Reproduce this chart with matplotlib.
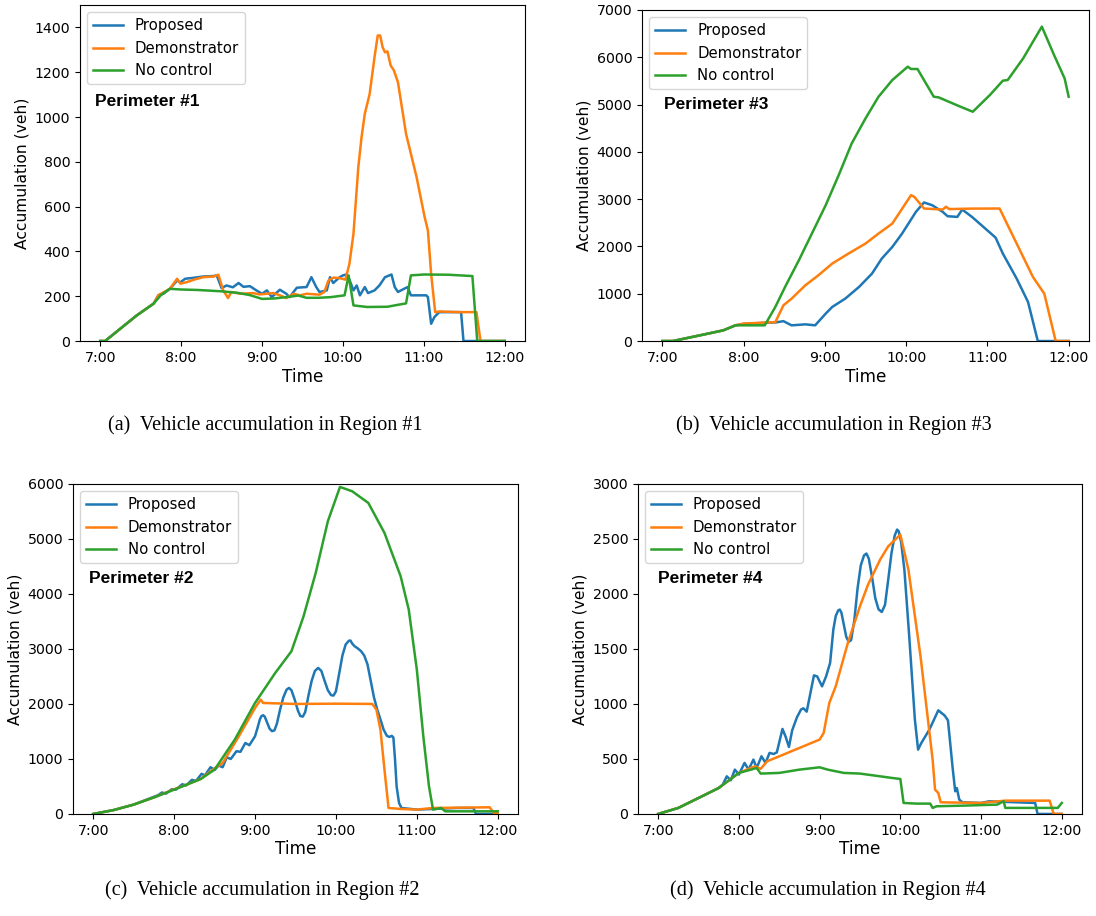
import numpy as np
import matplotlib
matplotlib.use("Agg")
import matplotlib.pyplot as plt

# ---------------- data (hours of day, vehicles) ----------------
series_names = ["Proposed", "Demonstrator", "No control"]
hour_ticks = [7, 8, 9, 10, 11, 12]
hour_labels = ["7:00", "8:00", "9:00", "10:00", "11:00", "12:00"]

# Region 1
r1_prop_t = [7.0, 7.06, 7.45, 7.66, 7.72, 7.78, 7.86, 7.95, 7.99, 8.05, 8.15, 8.27, 8.4, 8.44, 8.5, 8.56, 8.64,
             8.71, 8.77, 8.85, 8.93, 9.0, 9.06, 9.12, 9.22, 9.3, 9.34, 9.43, 9.55, 9.61, 9.67, 9.71, 9.8, 9.84,
             9.88, 9.96, 10.0, 10.04, 10.08, 10.13, 10.17, 10.21, 10.27, 10.31, 10.39, 10.45, 10.52, 10.6, 10.64,
             10.68, 10.76, 10.8, 10.84, 11.03, 11.05, 11.09, 11.13, 11.19, 11.46, 11.49, 12.0]
r1_prop_v = [0, 0, 114, 167, 205, 211, 233, 270, 262, 278, 282, 288, 290, 293, 236, 248, 240,
             259, 242, 245, 226, 211, 226, 196, 229, 211, 196, 238, 241, 285, 241, 219, 226, 285,
             259, 285, 293, 297, 274, 226, 248, 204, 241, 214, 226, 248, 285, 297, 241,
             219, 234, 241, 204, 204, 196, 77, 107, 129, 129, 0, 0]
r1_demo_t = [7.0, 7.06, 7.45, 7.66, 7.72, 7.86, 7.95, 7.99, 8.07, 8.15, 8.27, 8.4, 8.46, 8.52, 8.58, 8.62, 8.73,
             8.89, 8.97, 9.14, 9.22, 9.3, 9.39, 9.47, 9.55, 9.71, 9.77, 9.82, 9.88, 9.96, 10.03, 10.08, 10.13,
             10.19, 10.23, 10.27, 10.33, 10.39, 10.43, 10.46, 10.49, 10.52, 10.55, 10.59, 10.63, 10.68, 10.78,
             10.91, 11.01, 11.05, 11.09, 11.14, 11.19, 11.44, 11.65, 11.7, 12.0]
r1_demo_v = [0, 0, 114, 167, 205, 233, 278, 256, 263, 273, 285, 288, 296, 226, 192, 219, 211,
             214, 208, 214, 204, 192, 211, 204, 211, 207, 219, 270, 283, 281, 274, 345, 479,
             776, 910, 1014, 1103, 1267, 1364, 1364, 1312, 1289, 1293, 1230, 1208, 1155, 925,
             732, 553, 494, 300, 129, 132, 129, 129, 0, 0]
r1_none_t = [7.0, 7.06, 7.45, 7.66, 7.75, 7.86, 8.0, 8.2, 8.4, 8.5, 8.7, 8.85, 9.0, 9.15, 9.3, 9.45, 9.55, 9.7,
             9.85, 10.02, 10.07, 10.13, 10.3, 10.55, 10.7, 10.78, 10.84, 11.0, 11.3, 11.6, 11.66, 12.0]
r1_none_v = [0, 0, 114, 167, 205, 233, 230, 228, 224, 222, 215, 205, 188, 190, 196, 203, 193, 193,
             196, 204, 293, 159, 152, 153, 163, 168, 293, 297, 296, 290, 0, 0]

# Region 3
r3_prop_t = [7.0, 7.13, 7.5, 7.75, 7.9, 8.0, 8.2, 8.4, 8.49, 8.59, 8.7, 8.76, 8.88, 9.01, 9.09, 9.25, 9.42,
             9.58, 9.7, 9.83, 9.95, 10.12, 10.22, 10.32, 10.45, 10.51, 10.63, 10.69, 10.81, 11.1, 11.19, 11.36,
             11.5, 11.62, 12.0]
r3_prop_v = [0, 0, 134, 226, 332, 360, 380, 395, 420, 332, 345, 353, 332, 579, 720, 896, 1143,
             1426, 1743, 1990, 2272, 2731, 2930, 2872, 2731, 2639, 2625, 2780, 2625, 2188, 1849, 1320,
             826, 0, 0]
r3_demo_t = [7.0, 7.13, 7.5, 7.75, 7.9, 8.0, 8.39, 8.49, 8.59, 8.76, 8.92, 9.09, 9.29, 9.5, 9.66, 9.83,
             10.06, 10.1, 10.22, 10.45, 10.49, 10.53, 10.8, 11.15, 11.36, 11.56, 11.7, 11.84, 12.0]
r3_demo_v = [0, 0, 134, 226, 332, 370, 400, 755, 896, 1179, 1390, 1637, 1849, 2061, 2272, 2484,
             3084, 3049, 2802, 2780, 2840, 2790, 2800, 2802, 2061, 1355, 1002, 0, 0]
r3_none_t = [7.0, 7.13, 7.5, 7.75, 7.9, 8.26, 8.39, 8.51, 8.68, 8.84, 9.01, 9.17, 9.33, 9.5, 9.66, 9.83,
             10.02, 10.06, 10.14, 10.34, 10.4, 10.65, 10.82, 11.03, 11.19, 11.25, 11.44, 11.67, 11.82, 11.95, 12.0]
r3_none_v = [0, 0, 134, 226, 332, 332, 720, 1143, 1708, 2272, 2872, 3507, 4178, 4707, 5166, 5519,
             5801, 5752, 5752, 5166, 5152, 4968, 4848, 5201, 5505, 5519, 5977, 6648, 6048, 5554, 5166]

# Region 2
r2_prop_t = [7.0, 7.25, 7.5, 7.8, 7.85, 7.9, 7.97, 8.02, 8.1, 8.15, 8.22, 8.27, 8.34, 8.38, 8.45, 8.5, 8.55,
             8.6, 8.65, 8.7, 8.77, 8.82, 8.88, 8.93, 9.0, 9.03, 9.06, 9.08, 9.1, 9.12, 9.15, 9.18, 9.21, 9.24,
             9.27, 9.31, 9.35, 9.39, 9.42, 9.45, 9.49, 9.53, 9.56, 9.59, 9.62, 9.66, 9.7, 9.74, 9.78, 9.82,
             9.86, 9.9, 9.94, 9.97, 10.0, 10.04, 10.08, 10.12, 10.16, 10.18, 10.2, 10.23, 10.27, 10.31, 10.35,
             10.39, 10.43, 10.47, 10.51, 10.55, 10.59, 10.63, 10.66, 10.69, 10.71, 10.73, 10.75, 10.78, 10.81,
             11.0, 11.5, 11.7, 11.73, 12.0]
r2_prop_v = [0, 70, 170, 340, 390, 370, 450, 440, 540, 520, 620, 600, 730, 700, 850, 800, 880,
             850, 1030, 1000, 1140, 1130, 1290, 1250, 1412, 1560, 1720, 1780, 1794, 1770, 1660, 1550, 1505, 1520,
             1640, 1900, 2120, 2260, 2291, 2250, 2080, 1880, 1780, 1770, 1850, 2150, 2420, 2600, 2655, 2600,
             2420, 2250, 2160, 2152, 2230, 2550, 2880, 3080, 3150, 3152, 3100, 3050, 3010, 2960, 2880,
             2720, 2420, 2120, 1900, 1720, 1530, 1420, 1400, 1420, 1390, 1000, 500, 200, 109,
             79, 109, 109, 0, 0]
r2_demo_t = [7.0, 7.25, 7.5, 7.75, 8.0, 8.15, 8.33, 8.5, 8.6, 8.8, 9.0, 9.07, 9.1, 9.5, 10.0, 10.45, 10.5,
             10.55, 10.6, 10.65, 10.8, 11.0, 11.2, 11.9, 11.95, 12.0]
r2_demo_v = [0, 70, 170, 300, 450, 530, 640, 830, 927, 1412, 1927, 2079, 2018, 2000, 2005, 2000, 1897,
             1533, 806, 109, 91, 79, 109, 121, 18, 18]
r2_none_t = [7.0, 7.25, 7.5, 7.75, 8.0, 8.15, 8.33, 8.5, 8.75, 9.0, 9.25, 9.45, 9.6, 9.75, 9.9, 10.05, 10.2,
             10.4, 10.6, 10.8, 10.9, 11.0, 11.08, 11.15, 11.2, 11.3, 11.35, 12.0]
r2_none_v = [0, 70, 170, 300, 442, 530, 636, 806, 1352, 2018, 2564, 2958, 3594, 4382, 5321, 5945, 5867,
             5655, 5109, 4321, 3715, 2624, 1412, 503, 79, 109, 48, 48]

# Region 4
r4_prop_t = [7.0, 7.25, 7.5, 7.75, 7.8, 7.85, 7.9, 7.95, 8.0, 8.07, 8.12, 8.18, 8.22, 8.28, 8.33, 8.38, 8.43,
             8.47, 8.54, 8.58, 8.62, 8.66, 8.72, 8.77, 8.8, 8.84, 8.9, 8.93, 8.97, 9.03, 9.08, 9.13, 9.17, 9.2,
             9.23, 9.25, 9.27, 9.3, 9.33, 9.36, 9.39, 9.43, 9.47, 9.51, 9.55, 9.58, 9.61, 9.65, 9.69, 9.73,
             9.77, 9.81, 9.85, 9.89, 9.93, 9.96, 9.98, 10.01, 10.05, 10.11, 10.18, 10.22, 10.26, 10.36, 10.47,
             10.55, 10.59, 10.65, 10.68, 10.7, 10.73, 10.77, 11.0, 11.1, 11.67, 11.7, 12.0]
r4_prop_v = [0, 55, 145, 236, 267, 342, 306, 403, 358, 464, 403, 494, 418, 524, 464, 555, 545,
             560, 773, 700, 609, 760, 880, 950, 960, 930, 1150, 1260, 1250, 1160, 1250, 1373, 1676, 1800,
             1850, 1858, 1830, 1720, 1610, 1565, 1580, 1760, 2050, 2260, 2350, 2367, 2320, 2150, 1960, 1860,
             1836, 1900, 2130, 2370, 2530, 2585, 2570, 2470, 2221, 1615, 858, 585, 645, 767, 942,
             894, 850, 403, 206, 236, 130, 106, 100, 115, 100, 0, 0]
r4_demo_t = [7.0, 7.25, 7.5, 7.75, 8.0, 8.2, 8.27, 8.35, 8.5, 8.75, 9.0, 9.05, 9.12, 9.2, 9.35, 9.5, 9.6,
             9.75, 9.85, 10.0, 10.1, 10.25, 10.4, 10.43, 10.47, 10.5, 11.0, 11.3, 11.85, 11.9, 12.0]
r4_demo_v = [0, 55, 145, 236, 373, 433, 410, 479, 524, 600, 676, 736, 1009, 1161, 1555, 1888, 2085,
             2312, 2433, 2539, 2221, 1433, 494, 221, 191, 106, 100, 121, 121, 0, 0]
r4_none_t = [7.0, 7.25, 7.5, 7.75, 8.0, 8.15, 8.22, 8.27, 8.5, 8.75, 9.0, 9.1, 9.3, 9.5, 9.75, 9.9, 10.0,
             10.04, 10.2, 10.37, 10.4, 10.45, 10.8, 11.2, 11.28, 11.3, 11.95, 12.0]
r4_none_v = [0, 55, 145, 236, 373, 403, 418, 367, 373, 403, 424, 403, 373, 367, 342, 327, 318,
             100, 94, 94, 55, 70, 76, 85, 115, 55, 55, 100]


def plot_panel(ax, curves, ymax, perim, perim_x):
    colors = ["tab:blue", "tab:orange", "tab:green"]
    for (t, v), name, c in zip(curves, series_names, colors):
        ax.plot(t, v, color=c, lw=1.8, label=name)
    ax.set_xlim(6.75, 12.25)
    ax.set_ylim(0, ymax)
    ax.set_xticks(hour_ticks)
    ax.set_xticklabels(hour_labels)
    ax.tick_params(labelsize=10.2)
    ax.set_xlabel("Time", fontsize=12.2, labelpad=2)
    ax.set_ylabel("Accumulation (veh)", fontsize=11.2)
    ax.legend(loc="upper left", fontsize=10.7)
    ax.text(perim_x, 0.714, perim, transform=ax.transAxes, fontsize=12.5, fontweight="bold",
            family="Liberation Sans", va="center")


fig = plt.figure(figsize=(10.96, 9.16), dpi=100)

ax1 = fig.add_axes([0.0730, 0.6277, 0.4060, 0.3668])
plot_panel(ax1, [(r1_prop_t, r1_prop_v), (r1_demo_t, r1_demo_v), (r1_none_t, r1_none_v)],
           1500, "Perimeter #1", 0.034)

ax3 = fig.add_axes([0.5858, 0.6277, 0.4078, 0.3614])
plot_panel(ax3, [(r3_prop_t, r3_prop_v), (r3_demo_t, r3_demo_v), (r3_none_t, r3_none_v)],
           7000, "Perimeter #3", 0.049)

ax2 = fig.add_axes([0.0666, 0.1114, 0.4060, 0.3603])
plot_panel(ax2, [(r2_prop_t, r2_prop_v), (r2_demo_t, r2_demo_v), (r2_none_t, r2_none_v)],
           6000, "Perimeter #2", 0.036)

ax4 = fig.add_axes([0.5821, 0.1114, 0.4051, 0.3603])
plot_panel(ax4, [(r4_prop_t, r4_prop_v), (r4_demo_t, r4_demo_v), (r4_none_t, r4_none_v)],
           3000, "Perimeter #4", 0.045)

# sub-figure captions
cap_kw = dict(fontsize=14.5, family="Liberation Serif", ha="center", va="center")
fig.text(265 / 1096, 1 - 425 / 916, "(a)  Vehicle accumulation in Region #1", **cap_kw)
fig.text(834 / 1096, 1 - 425 / 916, "(b)  Vehicle accumulation in Region #3", **cap_kw)
fig.text(262 / 1096, 1 - 890 / 916, "(c)  Vehicle accumulation in Region #2", **cap_kw)
fig.text(828 / 1096, 1 - 890 / 916, "(d)  Vehicle accumulation in Region #4", **cap_kw)

fig.savefig("out.png", dpi=100)
